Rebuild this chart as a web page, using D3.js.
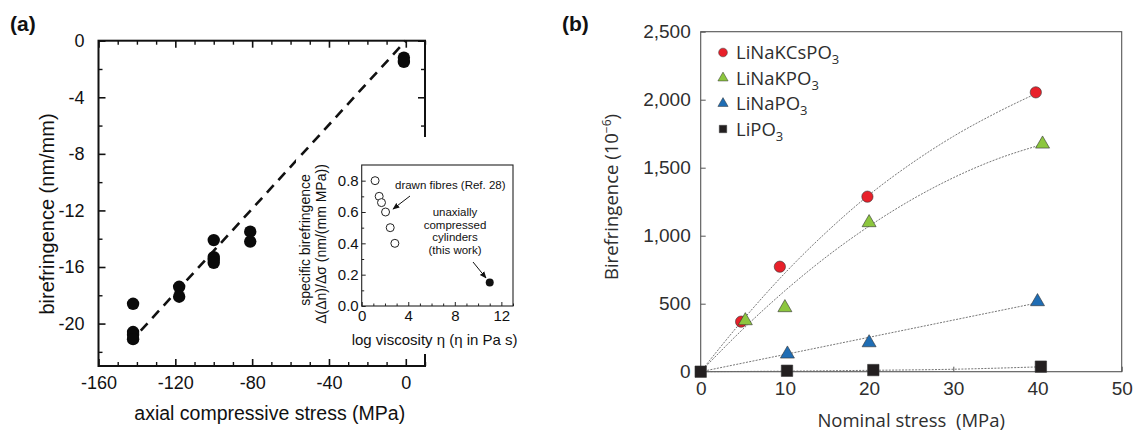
<!DOCTYPE html>
<html><head><meta charset="utf-8">
<script src="https://cdn.jsdelivr.net/npm/d3@7/dist/d3.min.js"></script>
<style>
body{margin:0;background:#fff}
svg{display:block}
.fa{font-family:"Liberation Sans",Arial,sans-serif}
.fb{font-family:"Open Sans",sans-serif;font-weight:400}
</style></head><body>
<svg id="fig" width="1136" height="432"></svg>
<script>
// ---------- Panel (a): birefringence vs axial compressive stress ----------
const stressA = [-1, -1, -142, -142, -142, -142, -118, -118, -100, -100, -100, -100, -81, -81];
const birefA  = [-1.2, -1.5, -18.6, -20.6, -20.8, -21.1, -17.4, -18.1, -14.1, -15.3, -15.5, -15.7, -13.5, -14.2];
const fitStressA = [-138, 0];
const fitBirefA  = [-20.5, 0];
const xMajorA = [-160, -120, -80, -40, 0];
const yMajorA = [0, -4, -8, -12, -16, -20];

// inset: specific birefringence vs log viscosity
const viscFibres = [1.15, 1.5, 1.7, 2.05, 2.45, 2.85];
const specFibres = [0.80, 0.70, 0.66, 0.60, 0.50, 0.40];
const viscCyl = [11];
const specCyl = [0.15];
const insetXTicks = [0, 4, 8, 12];
const insetYTicks = [0, 0.2, 0.4, 0.6, 0.8];

// ---------- Panel (b): birefringence vs nominal stress ----------
const glassNames = ["LiNaKCsPO", "LiNaKPO", "LiNaPO", "LiPO"];
const glassColors = ["#e8202a", "#8cc63e", "#1f6db4", "#231f20"];
const glassShapes = ["circle", "triangle", "triangle", "square"];
const stressRed   = [4.8, 9.4, 19.8, 39.8];
const birefRed    = [368, 772, 1287, 2054];
const stressGreen = [5.3, 10.0, 20.0, 40.6];
const birefGreen  = [375, 471, 1096, 1674];
const stressBlue  = [10.3, 20.0, 40.0];
const birefBlue   = [130, 213, 515];
const stressBlack = [0, 10.25, 20.5, 40.4];
const birefBlack  = [0, 7, 12, 37];
// dotted trend curves through each series
const curveXRed   = [0, 5, 10, 15, 20, 25, 30, 35, 40];
const curveYRed   = [0, 380, 725, 1030, 1300, 1530, 1730, 1900, 2050];
const curveXGreen = [0, 5, 10, 15, 20, 25, 30, 35, 40.5];
const curveYGreen = [0, 312, 595, 848, 1070, 1263, 1426, 1559, 1670];
const curveXBlue  = [0, 40];
const curveYBlue  = [0, 506];
const curveXBlack = [0, 10, 20, 30, 40.4];
const curveYBlack = [0, 4, 10, 18, 36];
const xTicksB = [0, 10, 20, 30, 40, 50];
const yTicksB = [0, 500, 1000, 1500, 2000, 2500];

const svg = d3.select("#fig");
const zip = (xs, ys) => xs.map((v, i) => [v, ys[i]]);

// ================= Panel (a) =================
const A = svg.append("g").attr("class", "fa");
const xA = d3.scaleLinear().domain([-160, 10]).range([98.5, 425]);
const yA = d3.scaleLinear().domain([-23, 0]).range([366, 40.7]);
const xMinorA = d3.range(-160, 11, 10).filter(v => !xMajorA.includes(v));
const yMinorA = d3.range(-22, 1, 2).filter(v => !yMajorA.includes(v));
const fmtA = d => String(d);

function styleAxis(g, width, color) {
  g.select(".domain").remove();
  g.selectAll(".tick line").attr("stroke", color).attr("stroke-width", width);
}

// bottom axis
A.append("g").attr("transform", `translate(0,${yA.range()[0]})`)
  .call(d3.axisBottom(xA).tickValues(xMajorA).tickSize(-7).tickPadding(10).tickFormat(fmtA))
  .call(g => styleAxis(g, 1.6, "#111"))
  .call(g => g.selectAll("text").attr("font-size", 18).attr("fill", "#111").attr("font-family", null));
A.append("g").attr("transform", `translate(0,${yA.range()[0]})`)
  .call(d3.axisBottom(xA).tickValues(xMinorA).tickSize(-4).tickFormat(""))
  .call(g => styleAxis(g, 1.4, "#111"));
// top axis (ticks only)
A.append("g").attr("transform", `translate(0,${yA.range()[1]})`)
  .call(d3.axisTop(xA).tickValues(xMajorA).tickSize(-7).tickFormat(""))
  .call(g => styleAxis(g, 1.6, "#111"));
A.append("g").attr("transform", `translate(0,${yA.range()[1]})`)
  .call(d3.axisTop(xA).tickValues(xMinorA).tickSize(-4).tickFormat(""))
  .call(g => styleAxis(g, 1.4, "#111"));
// left axis
A.append("g").attr("transform", `translate(${xA.range()[0]},0)`)
  .call(d3.axisLeft(yA).tickValues(yMajorA).tickSize(-7).tickPadding(14).tickFormat(fmtA))
  .call(g => styleAxis(g, 1.6, "#111"))
  .call(g => g.selectAll("text").attr("font-size", 18).attr("fill", "#111").attr("font-family", null));
A.append("g").attr("transform", `translate(${xA.range()[0]},0)`)
  .call(d3.axisLeft(yA).tickValues(yMinorA).tickSize(-4).tickFormat(""))
  .call(g => styleAxis(g, 1.4, "#111"));
// right axis (ticks only)
A.append("g").attr("transform", `translate(${xA.range()[1]},0)`)
  .call(d3.axisRight(yA).tickValues(yMajorA).tickSize(-7).tickFormat(""))
  .call(g => styleAxis(g, 1.6, "#111"));
A.append("g").attr("transform", `translate(${xA.range()[1]},0)`)
  .call(d3.axisRight(yA).tickValues(yMinorA).tickSize(-4).tickFormat(""))
  .call(g => styleAxis(g, 1.4, "#111"));
// frame
A.append("rect")
  .attr("x", xA.range()[0]).attr("y", yA.range()[1])
  .attr("width", xA.range()[1] - xA.range()[0]).attr("height", yA.range()[0] - yA.range()[1])
  .attr("fill", "none").attr("stroke", "#111").attr("stroke-width", 2);

// linear fit
A.append("path")
  .datum(zip(fitStressA, fitBirefA))
  .attr("d", d3.line().x(d => xA(d[0])).y(d => yA(d[1])))
  .attr("fill", "none").attr("stroke", "#111").attr("stroke-width", 2.6)
  .attr("stroke-dasharray", "10,7");

// measurements
A.append("g").selectAll("circle")
  .data(zip(stressA, birefA)).join("circle")
  .attr("cx", d => xA(d[0])).attr("cy", d => yA(d[1])).attr("r", 6.2)
  .attr("fill", "#0a0a0a");

// axis titles and panel letter
A.append("text").attr("x", (xA.range()[0] + xA.range()[1]) / 2 + 8).attr("y", 420)
  .attr("text-anchor", "middle").attr("font-size", 19.5).attr("fill", "#111")
  .text("axial compressive stress (MPa)");
A.append("text").attr("transform", "translate(54,214) rotate(-90)")
  .attr("text-anchor", "middle").attr("font-size", 20).attr("fill", "#111")
  .text("birefringence (nm/mm)");
A.append("text").attr("x", 10).attr("y", 31).attr("font-size", 21).attr("font-weight", "bold")
  .attr("fill", "#111").text("(a)");

// ---------- inset ----------
const I = A.append("g");
// white backing hides the main frame where the inset sits
I.append("rect").attr("x", 296).attr("y", 160).attr("width", 226).attr("height", 194).attr("fill", "#fff");
I.append("rect").attr("x", 400).attr("y", 137).attr("width", 122).attr("height", 30).attr("fill", "#fff");

const xI = d3.scaleLinear().domain([0, 13]).range([361.7, 513]);
const yI = d3.scaleLinear().domain([0, 0.9]).range([306, 165]);
const xMinorI = d3.range(0, 13.01, 1).filter(v => !insetXTicks.includes(v));
const yMinorI = d3.range(0.1, 0.9, 0.2).map(v => +v.toFixed(1));

I.append("g").attr("transform", `translate(0,${yI.range()[0]})`)
  .call(d3.axisBottom(xI).tickValues(insetXTicks).tickSize(-4).tickPadding(4).tickFormat(d => String(d)))
  .call(g => styleAxis(g, 1, "#222"))
  .call(g => g.selectAll("text").attr("font-size", 15).attr("fill", "#111").attr("font-family", null));
I.append("g").attr("transform", `translate(0,${yI.range()[0]})`)
  .call(d3.axisBottom(xI).tickValues(xMinorI).tickSize(-2.5).tickFormat(""))
  .call(g => styleAxis(g, 1, "#222"));
I.append("g").attr("transform", `translate(${xI.range()[0]},0)`)
  .call(d3.axisLeft(yI).tickValues(insetYTicks).tickSize(-4).tickPadding(3).tickFormat(d3.format(".1f")))
  .call(g => styleAxis(g, 1, "#222"))
  .call(g => g.selectAll("text").attr("font-size", 15).attr("fill", "#111").attr("font-family", null));
I.append("g").attr("transform", `translate(${xI.range()[0]},0)`)
  .call(d3.axisLeft(yI).tickValues(yMinorI).tickSize(-2.5).tickFormat(""))
  .call(g => styleAxis(g, 1, "#222"));
I.append("rect")
  .attr("x", xI.range()[0]).attr("y", yI.range()[1])
  .attr("width", xI.range()[1] - xI.range()[0]).attr("height", yI.range()[0] - yI.range()[1])
  .attr("fill", "none").attr("stroke", "#222").attr("stroke-width", 1.1);

I.append("g").selectAll("circle")
  .data(zip(viscFibres, specFibres)).join("circle")
  .attr("cx", d => xI(d[0])).attr("cy", d => yI(d[1])).attr("r", 4)
  .attr("fill", "#fff").attr("stroke", "#222").attr("stroke-width", 1);
I.append("g").selectAll("circle")
  .data(zip(viscCyl, specCyl)).join("circle")
  .attr("cx", d => xI(d[0])).attr("cy", d => yI(d[1])).attr("r", 4)
  .attr("fill", "#111");

// inset annotations
I.append("text").attr("x", 395).attr("y", 189).attr("font-size", 11.5).attr("fill", "#111")
  .text("drawn fibres (Ref. 28)");
I.append("defs").append("marker").attr("id", "ah").attr("viewBox", "0 0 10 10")
  .attr("refX", 9).attr("refY", 5).attr("markerWidth", 7).attr("markerHeight", 7).attr("orient", "auto")
  .append("path").attr("d", "M0,1 L10,5 L0,9 z").attr("fill", "#111");
I.append("line").attr("x1", 410).attr("y1", 196).attr("x2", 393).attr("y2", 209)
  .attr("stroke", "#111").attr("stroke-width", 1).attr("marker-end", "url(#ah)");
const cylText = I.append("text").attr("font-size", 11.5).attr("fill", "#111").attr("text-anchor", "middle");
["unaxially", "compressed", "cylinders", "(this work)"].forEach((t, i) =>
  cylText.append("tspan").attr("x", 455).attr("y", 216 + i * 12.5).text(t));
I.append("line").attr("x1", 473).attr("y1", 262).attr("x2", 486).attr("y2", 278)
  .attr("stroke", "#111").attr("stroke-width", 1).attr("marker-end", "url(#ah)");

I.append("text").attr("x", xI(0) - 10).attr("y", 345).attr("font-size", 15).attr("fill", "#111")
  .text("log viscosity η (η in Pa s)");
I.append("text").attr("transform", "translate(310,240) rotate(-90)")
  .attr("text-anchor", "middle").attr("font-size", 14).attr("fill", "#111")
  .text("specific birefringence");
I.append("text").attr("transform", "translate(326,244) rotate(-90)")
  .attr("text-anchor", "middle").attr("font-size", 14).attr("fill", "#111")
  .text("Δ(Δn)/Δσ  (nm/(mm MPa))");

// ================= Panel (b) =================
const B = svg.append("g").attr("class", "fb");
const xB = d3.scaleLinear().domain([0, 50]).range([700.7, 1121.7]);
const yB = d3.scaleLinear().domain([0, 2500]).range([371.7, 31.7]);
const axisColB = "#555";
const textColB = "#2e2e2e";

B.append("g").attr("transform", `translate(0,${yB.range()[0]})`)
  .call(d3.axisBottom(xB).tickValues(xTicksB).tickSize(-5).tickPadding(10).tickFormat(d => String(d)))
  .call(g => styleAxis(g, 1, axisColB))
  .call(g => g.selectAll("text").attr("font-size", 19).attr("fill", textColB).attr("font-family", null));
B.append("g").attr("transform", `translate(${xB.range()[0]},0)`)
  .call(d3.axisLeft(yB).tickValues(yTicksB).tickSize(-5).tickPadding(10).tickFormat(d3.format(",")))
  .call(g => styleAxis(g, 1, axisColB))
  .call(g => g.selectAll("text").attr("font-size", 19).attr("fill", textColB).attr("font-family", null));
B.append("rect")
  .attr("x", xB.range()[0]).attr("y", yB.range()[1])
  .attr("width", xB.range()[1] - xB.range()[0]).attr("height", yB.range()[0] - yB.range()[1])
  .attr("fill", "none").attr("stroke", axisColB).attr("stroke-width", 1.1);

// trend curves
const curveLine = d3.line().x(d => xB(d[0])).y(d => yB(d[1])).curve(d3.curveMonotoneX);
const curves = [
  zip(curveXRed, curveYRed), zip(curveXGreen, curveYGreen),
  zip(curveXBlue, curveYBlue), zip(curveXBlack, curveYBlack)
];
B.append("g").selectAll("path").data(curves).join("path")
  .attr("d", curveLine).attr("fill", "none")
  .attr("stroke", "#666").attr("stroke-width", 0.9).attr("stroke-dasharray", "2,1.3");

// markers
const sym = {
  circle: d3.symbol().type(d3.symbolCircle).size(100),
  triangle: d3.symbol().type(d3.symbolTriangle).size(85),
  square: d3.symbol().type(d3.symbolSquare).size(130)
};
const pointSets = [
  zip(stressRed, birefRed), zip(stressGreen, birefGreen),
  zip(stressBlue, birefBlue), zip(stressBlack, birefBlack)
];
pointSets.forEach((pts, s) => {
  B.append("g").selectAll("path").data(pts).join("path")
    .attr("transform", d => `translate(${xB(d[0])},${yB(d[1])})`)
    .attr("d", sym[glassShapes[s]]())
    .attr("fill", glassColors[s]).attr("stroke", "#333").attr("stroke-width", 0.6);
});

// legend
const legSym = {
  circle: d3.symbol().type(d3.symbolCircle).size(60),
  triangle: d3.symbol().type(d3.symbolTriangle).size(45),
  square: d3.symbol().type(d3.symbolSquare).size(55)
};
const leg = B.append("g");
glassNames.forEach((name, i) => {
  const y = 52.5 + i * 25.5;
  leg.append("path").attr("transform", `translate(723,${y})`)
    .attr("d", legSym[glassShapes[i]]())
    .attr("fill", glassColors[i]).attr("stroke", "#333").attr("stroke-width", 0.5);
  const t = leg.append("text").attr("x", 736).attr("y", y + 6.5)
    .attr("font-size", 18.5).attr("fill", textColB);
  t.append("tspan").text(name);
  t.append("tspan").attr("font-size", 13).attr("dy", 5).text("3");
});

// axis titles and panel letter
B.append("text").attr("x", (xB.range()[0] + xB.range()[1]) / 2).attr("y", 427)
  .attr("text-anchor", "middle").attr("font-size", 18.5).attr("fill", textColB)
  .style("white-space", "pre")
  .text("Nominal stress  (MPa)");
const yt = B.append("text").attr("transform", "translate(618,197) rotate(-90)")
  .attr("text-anchor", "middle").attr("font-size", 18.5).attr("fill", textColB);
yt.append("tspan").text("Birefringence (10");
yt.append("tspan").attr("font-size", 12).attr("dy", -7).text("−6");
yt.append("tspan").attr("dy", 7).text(")");
svg.append("text").attr("x", 562).attr("y", 31).attr("font-size", 21).attr("font-weight", "bold")
  .attr("font-family", "Liberation Sans, Arial, sans-serif").attr("fill", "#111").text("(b)");
</script>
</body></html>
